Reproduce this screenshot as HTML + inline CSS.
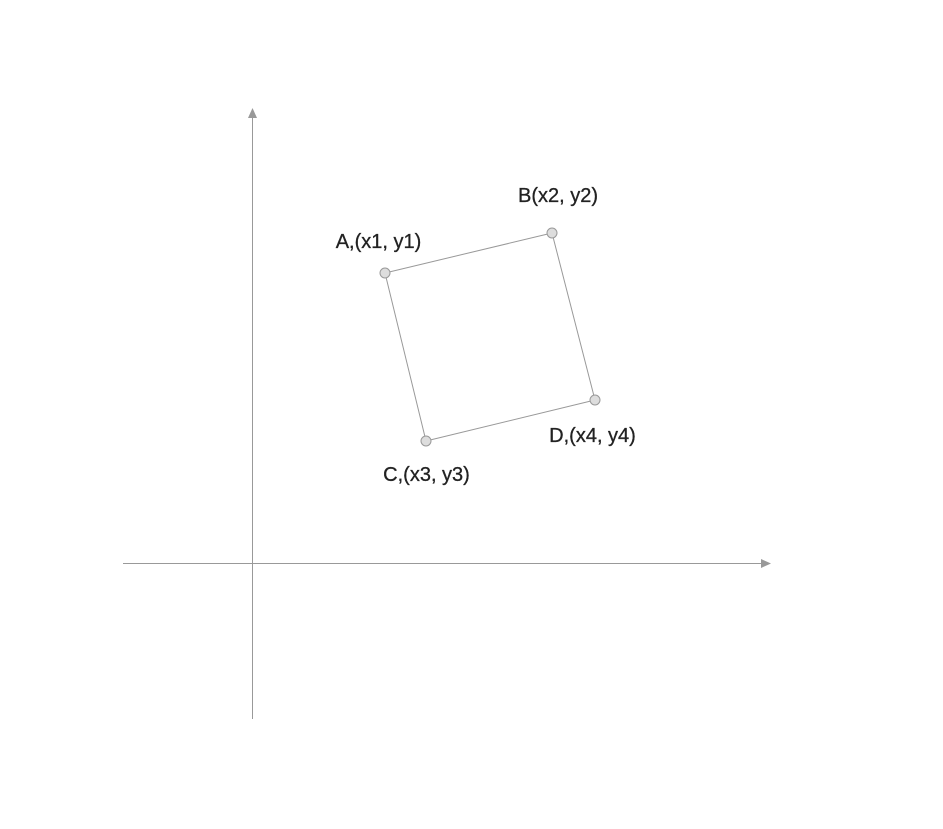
<!DOCTYPE html>
<html><head><meta charset="utf-8"><style>
html,body{margin:0;padding:0;background:#fff;}
svg{display:block;font-family:"Liberation Sans",sans-serif;}
</style></head><body>
<svg width="943" height="829">
<g>
<line x1="252.5" y1="116" x2="252.5" y2="719" stroke="#999" stroke-width="1"/>
<polygon points="252.5,108 248,118 257,118" fill="#999"/>
</g>
<g>
<line x1="123" y1="563.5" x2="764" y2="563.5" stroke="#999" stroke-width="1"/>
<polygon points="771,563.5 761,559 761,568" fill="#999"/>
</g>
<g id="shape"></g>
</svg>
<script>
const labels=["A,(x1, y1)","B(x2, y2)","D,(x4, y4)","C,(x3, y3)"];
const xs=[385,552,595,426];
const ys=[273,233,400,441];
const lx=[378.5,558,592.5,426.5];
const ly=[248,202,442,481];
const ns="http://www.w3.org/2000/svg";
const g=document.getElementById('shape');
const poly=document.createElementNS(ns,'polygon');
poly.setAttribute('points',xs.map((x,i)=>x+','+ys[i]).join(' '));
poly.setAttribute('fill','none');poly.setAttribute('stroke','#999');poly.setAttribute('stroke-width','1');


g.appendChild(poly);
xs.forEach((x,i)=>{
 const c=document.createElementNS(ns,'circle');
 c.setAttribute('cx',x);c.setAttribute('cy',ys[i]);c.setAttribute('r',5);
 c.setAttribute('fill','#ddd');c.setAttribute('stroke','#999');c.setAttribute('stroke-width','1');
 
 
 g.appendChild(c);
 const t=document.createElementNS(ns,'text');
 t.setAttribute('x',lx[i]);t.setAttribute('y',ly[i]);t.setAttribute('text-anchor','middle');
 t.setAttribute('font-size','20');t.setAttribute('fill','#222');
 t.setAttribute('stroke','#222');t.setAttribute('stroke-width','0.3');
 t.textContent=labels[i];
 
 
 g.appendChild(t);
});
</script>
</body></html>
